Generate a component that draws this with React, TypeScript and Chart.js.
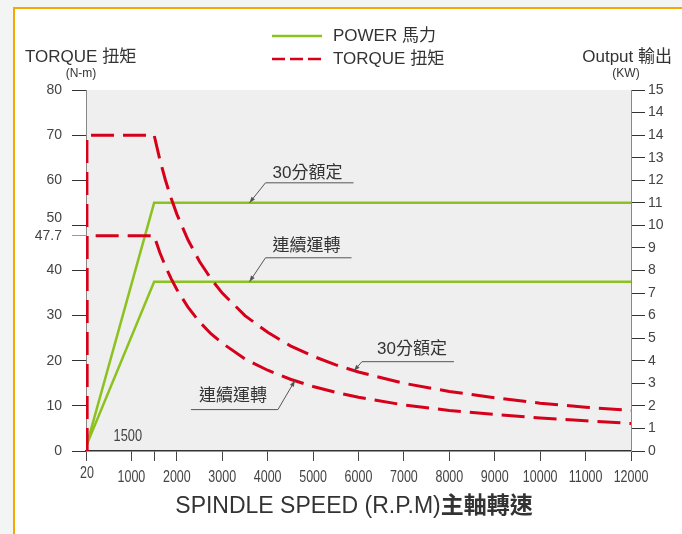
import React, { useEffect, useRef } from 'react';
import { Chart, registerables } from 'chart.js';

Chart.register(...registerables);

// ---- data ----
const TORQUE_RPM = [20, 20, 1500, 1625, 1750, 1875, 2000, 2250, 2500, 2750, 3000, 3500, 4000, 4500, 5000, 5500, 6000, 7000, 8000, 9000, 10000, 11000, 12000];
const TORQUE_30MIN = [0, 70, 70, 64.6, 60, 56, 52.5, 46.7, 42, 38.2, 35, 30, 26.3, 23.3, 21, 19.1, 17.5, 15, 13.2, 11.8, 10.6, 9.7, 9.0];
const TORQUE_CONT = [0, 47.7, 47.7, 44, 40.9, 38.2, 35.8, 31.8, 28.6, 26, 23.9, 20.4, 17.9, 15.9, 14.3, 13, 11.9, 10.2, 9.0, 8.1, 7.3, 6.7, 6.1];

const POWER_RPM = [20, 1500, 12000];
const POWER_30MIN = [0.3, 11, 11];
const POWER_CONT = [0.3, 7.5, 7.5];

const X_TICKS = [20, 1000, 1500, 2000, 3000, 4000, 5000, 6000, 7000, 8000, 9000, 10000, 11000, 12000];
const X_TICK_LABELS = ['20', '1000', '', '2000', '3000', '4000', '5000', '6000', '7000', '8000', '9000', '10000', '11000', '12000'];

const LEFT_TICKS = [0, 10, 20, 30, 40, 47.7, 50, 60, 70, 80];
const LEFT_TICK_LABELS = ['0', '10', '20', '30', '40', '47.7', '50', '60', '70', '80'];

const RIGHT_TICKS = [0, 1, 2, 3, 4, 5, 6, 7, 8, 9, 10, 11, 12, 13, 14, 15, 16];
const RIGHT_TICK_LABELS = ['0', '1', '2', '3', '4', '5', '6', '7', '8', '9', '10', '11', '12', '13', '14', '14', '15'];

const LEGEND_LABELS = ['POWER 馬力', 'TORQUE 扭矩'];
const LEFT_TITLE = 'TORQUE 扭矩';
const LEFT_UNIT = '(N-m)';
const RIGHT_TITLE = 'Output 輸出';
const RIGHT_UNIT = '(KW)';
const X_TITLE_LATIN = 'SPINDLE SPEED (R.P.M)';
const X_TITLE_CJK = '主軸轉速';
const BASE_SPEED_LABEL = '1500';

// annotation anchors (data coordinates) with their texts
const NOTE_TEXTS = ['30分額定', '連續運轉', '30分額定', '連續運轉'];
const NOTE_AXIS = ['y2', 'y2', 'y', 'y'];
const NOTE_RPM = [3600, 3600, 5900, 4600];
const NOTE_VALUE = [11, 7.5, 17.8, 15.6];

const GREEN = '#8cc21f';
const RED = '#d7001b';
const TEXT = '#333333';
const SANS = '"Liberation Sans", "Noto Sans CJK TC", sans-serif';
const CJK = '"Noto Sans CJK TC", "Noto Sans CJK SC", sans-serif';

// pixel offsets for the leader lines: [elbowDx, elbowDy, lineEndDx, textDx, textDy]
const NOTE_LAYOUT = [
  [16, -20, 88, 42, -10],
  [16, -24, 86, 41, -11],
  [8, -9, 92, 50, -12],
  [-17, 29, -87, -45, -13],
];

function drawNarrow(ctx: CanvasRenderingContext2D, text: string, x: number, y: number, sx: number) {
  ctx.save();
  ctx.translate(x, y);
  ctx.scale(sx, 1);
  ctx.fillText(text, 0, 0);
  ctx.restore();
}

const decorPlugin = {
  id: 'decor',
  beforeDraw(chart: any) {
    const { ctx, chartArea } = chart;
    ctx.save();
    ctx.fillStyle = '#efefef';
    ctx.fillRect(chartArea.left, chartArea.top, chartArea.right - chartArea.left, chartArea.bottom - chartArea.top);
    ctx.restore();
  },
  afterDraw(chart: any) {
    const { ctx, scales } = chart;
    ctx.save();
    ctx.fillStyle = TEXT;
    ctx.textBaseline = 'middle';

    // legend
    const lx0 = 272, lx1 = 322;
    ctx.lineWidth = 2.5;
    ctx.strokeStyle = GREEN;
    ctx.setLineDash([]);
    ctx.beginPath(); ctx.moveTo(lx0, 36); ctx.lineTo(lx1, 36); ctx.stroke();
    ctx.strokeStyle = RED;
    ctx.setLineDash([13, 5]);
    ctx.beginPath(); ctx.moveTo(lx0, 59); ctx.lineTo(lx1, 59); ctx.stroke();
    ctx.setLineDash([]);
    ctx.font = `17px ${SANS}`;
    ctx.textAlign = 'left';
    ctx.fillText(LEGEND_LABELS[0], 333, 36);
    ctx.fillText(LEGEND_LABELS[1], 333, 59);

    // axis titles
    ctx.fillText(LEFT_TITLE, 25, 57);
    ctx.textAlign = 'right';
    ctx.fillText(RIGHT_TITLE, 672, 57);
    ctx.font = `12px ${SANS}`;
    ctx.textAlign = 'center';
    ctx.fillText(LEFT_UNIT, 81, 74);
    ctx.fillText(RIGHT_UNIT, 626, 74);

    // x tick labels (narrow type), positioned by the x scale
    ctx.fillStyle = '#444';
    ctx.font = `16px ${SANS}`;
    ctx.textAlign = 'center';
    scales.x.ticks.forEach((t: any, i: number) => {
      const label = X_TICK_LABELS[i];
      if (!label) return;
      const px = scales.x.getPixelForValue(t.value);
      drawNarrow(ctx, label, px, i === 0 ? 474 : 478, 0.78);
    });

    // x title (latin regular + CJK bold) on a shared baseline
    ctx.fillStyle = TEXT;
    ctx.textBaseline = 'alphabetic';
    ctx.font = `23px ${SANS}`;
    const w1 = ctx.measureText(X_TITLE_LATIN).width;
    ctx.font = `bold 23px ${CJK}`;
    const w2 = ctx.measureText(X_TITLE_CJK).width;
    const startX = 354 - (w1 + w2) / 2;
    ctx.textAlign = 'left';
    ctx.font = `23px ${SANS}`;
    ctx.fillText(X_TITLE_LATIN, startX, 513);
    ctx.font = `bold 23px ${CJK}`;
    ctx.fillText(X_TITLE_CJK, startX + w1, 513);
    ctx.textBaseline = 'middle';

    // 1500 label inside plot
    ctx.font = `16px ${SANS}`;
    ctx.textAlign = 'center';
    ctx.fillStyle = '#444';
    drawNarrow(ctx, BASE_SPEED_LABEL, scales.x.getPixelForValue(920), scales.y.getPixelForValue(3.3), 0.8);

    // leader-line notes
    ctx.strokeStyle = '#555';
    ctx.fillStyle = '#555';
    ctx.lineWidth = 1;
    for (let i = 0; i < NOTE_TEXTS.length; i++) {
      const sc = scales[NOTE_AXIS[i]];
      const tx = scales.x.getPixelForValue(NOTE_RPM[i]);
      const ty = sc.getPixelForValue(NOTE_VALUE[i]);
      const [edx, edy, endDx, tdx, tdy] = NOTE_LAYOUT[i];
      const ex = tx + edx, ey = ty + edy;
      ctx.beginPath();
      ctx.moveTo(ex + endDx, ey);
      ctx.lineTo(ex, ey);
      ctx.lineTo(tx, ty);
      ctx.stroke();
      const ang = Math.atan2(ty - ey, tx - ex);
      const al = 6, aw = 2.2;
      ctx.beginPath();
      ctx.moveTo(tx, ty);
      ctx.lineTo(tx - al * Math.cos(ang) + aw * Math.sin(ang), ty - al * Math.sin(ang) - aw * Math.cos(ang));
      ctx.lineTo(tx - al * Math.cos(ang) - aw * Math.sin(ang), ty - al * Math.sin(ang) + aw * Math.cos(ang));
      ctx.closePath();
      ctx.fill();
      ctx.save();
      ctx.fillStyle = TEXT;
      ctx.font = `17px ${SANS}`;
      ctx.textAlign = 'center';
      ctx.fillText(NOTE_TEXTS[i], ex + tdx, ey + tdy);
      ctx.restore();
    }
    ctx.restore();
  },
};

export default function App() {
  const canvasRef = useRef<HTMLCanvasElement | null>(null);

  useEffect(() => {
    if (!canvasRef.current) return;
    const toPts = (xs: number[], ys: number[]) => xs.map((x, i) => ({ x, y: ys[i] }));
    const chart = new Chart(canvasRef.current, {
      type: 'line',
      data: {
        datasets: [
          {
            label: 'TORQUE 30min',
            data: toPts(TORQUE_RPM, TORQUE_30MIN),
            yAxisID: 'y',
            borderColor: RED,
            borderWidth: 3,
            borderDash: [23, 9],
            pointRadius: 0,
            tension: 0,
            order: 1,
          },
          {
            label: 'TORQUE continuous',
            data: toPts(TORQUE_RPM, TORQUE_CONT),
            yAxisID: 'y',
            borderColor: RED,
            borderWidth: 3,
            borderDash: [23, 9],
            pointRadius: 0,
            tension: 0,
            order: 2,
          },
          {
            label: 'POWER 30min',
            data: toPts(POWER_RPM, POWER_30MIN),
            yAxisID: 'y2',
            borderColor: GREEN,
            borderWidth: 2.5,
            pointRadius: 0,
            tension: 0,
            order: 3,
          },
          {
            label: 'POWER continuous',
            data: toPts(POWER_RPM, POWER_CONT),
            yAxisID: 'y2',
            borderColor: GREEN,
            borderWidth: 2.5,
            pointRadius: 0,
            tension: 0,
            order: 4,
          },
        ],
      },
      options: {
        animation: false,
        responsive: false,
        events: [],
        layout: { padding: { top: 90, left: 0, right: 0, bottom: 0 } },
        plugins: {
          legend: { display: false },
          tooltip: { enabled: false },
          title: { display: false },
        },
        scales: {
          x: {
            type: 'linear',
            min: 0,
            max: 12000,
            afterFit: (s: any) => { s.height = 83; },
            afterBuildTicks: (s: any) => { s.ticks = X_TICKS.map((v) => ({ value: v })); },
            ticks: {
              display: false,
              autoSkip: false,
              maxRotation: 0,
              minRotation: 0,
            },
            grid: { display: true, drawOnChartArea: false, drawTicks: true, tickLength: 10, color: '#444', lineWidth: 1 },
            border: { display: true, color: '#333', width: 1.5 },
          },
          y: {
            type: 'linear',
            position: 'left',
            min: 0,
            max: 80,
            afterFit: (s: any) => { s.width = 86; },
            afterBuildTicks: (s: any) => { s.ticks = LEFT_TICKS.map((v) => ({ value: v })); },
            ticks: {
              autoSkip: false,
              padding: 10,
              color: '#444',
              font: { family: SANS, size: 14, lineHeight: 1.0 },
              callback: (v: any, i: number) => (LEFT_TICKS[i] === 50 ? [LEFT_TICK_LABELS[i], ''] : LEFT_TICK_LABELS[i]),
            },
            grid: {
              display: true,
              drawOnChartArea: false,
              drawTicks: true,
              tickLength: 14,
              lineWidth: 1,
              color: (c: any) => (c.tick && c.tick.value === 47.7 ? '#999' : '#333'),
            },
            border: { display: true, color: '#888', width: 1 },
          },
          y2: {
            type: 'linear',
            position: 'right',
            min: 0,
            max: 16,
            afterFit: (s: any) => { s.width = 51; },
            afterBuildTicks: (s: any) => { s.ticks = RIGHT_TICKS.map((v) => ({ value: v })); },
            ticks: {
              autoSkip: false,
              padding: 3,
              color: '#444',
              font: { family: SANS, size: 14 },
              callback: (_v: any, i: number) => RIGHT_TICK_LABELS[i],
            },
            grid: { display: true, drawOnChartArea: false, drawTicks: true, tickLength: 14, color: '#333', lineWidth: 1 },
            border: { display: true, color: '#888', width: 1 },
          },
        },
      },
      plugins: [decorPlugin],
    } as any);
    return () => chart.destroy();
  }, []);

  return (
    <div style={{ position: 'fixed', left: 0, top: 0, width: 682, height: 534, overflow: 'hidden', background: '#f3f5f4' }}>
      <div
        style={{
          position: 'absolute',
          left: 13,
          top: 7,
          width: 720,
          height: 580,
          border: '2px solid #f5a800',
          background: '#ffffff',
        }}
      />
      <canvas
        ref={canvasRef}
        width={682}
        height={534}
        style={{ position: 'absolute', left: 0, top: 0, width: 682, height: 534 }}
      />
    </div>
  );
}
